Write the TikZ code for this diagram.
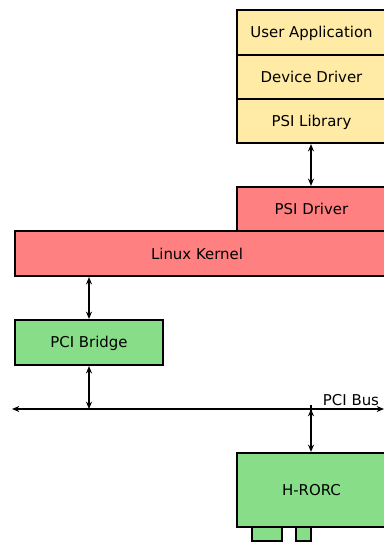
\documentclass[tikz,border=0pt]{standalone}
\usepackage{fontspec}
\setmainfont{DejaVu Sans}
\usetikzlibrary{arrows.meta}
\definecolor{appyellow}{HTML}{FFEBA6}
\definecolor{kernred}{HTML}{FF8080}
\definecolor{hwgreen}{HTML}{88DE88}
\tikzset{
  lbl/.style={font=\fontsize{11.2}{13}\selectfont, text height=8.1pt, text depth=0pt, inner sep=0pt},
  blk/.style={lbl, draw=black, line width=1.6pt, rectangle},
  ylw/.style={blk, fill=appyellow},
  rd/.style={blk, fill=kernred},
  grn/.style={blk, fill=hwgreen},
  link/.style={line width=1.5pt, {Stealth[length=5.5pt,width=4.5pt]}-{Stealth[length=5.5pt,width=4.5pt]}},
}
\begin{document}
\begin{tikzpicture}[x=0.75pt, y=-0.75pt]
\useasboundingbox (0,0) rectangle (384,543);
% user space stack
\node[ylw, minimum width=149*0.75pt, minimum height=45*0.75pt] (ua) at (311.5,32.5) {User Application};
\node[ylw, minimum width=149*0.75pt, minimum height=44*0.75pt] (dd) at (311.5,77) {Device Driver};
\node[ylw, minimum width=149*0.75pt, minimum height=44*0.75pt] (psil) at (311.5,121) {PSI Library};
% kernel space
\node[rd, minimum width=149*0.75pt, minimum height=44*0.75pt] (psid) at (311.5,209) {PSI Driver};
\node[rd, minimum width=371*0.75pt, minimum height=45*0.75pt] (lk) at (200.5,253.5) {};
\node[lbl] (lkt) at (197,254.5) {Linux Kernel};
% hardware
\node[grn, minimum width=148*0.75pt, minimum height=45*0.75pt] (pcib) at (89,342.5) {PCI Bridge};
\node[grn, minimum width=149*0.75pt, minimum height=74*0.75pt] (hr) at (311.5,490) {H-RORC};
\node[grn, minimum width=30*0.75pt, minimum height=14*0.75pt] (tabA) at (267,534) {};
\node[grn, minimum width=15*0.75pt, minimum height=14*0.75pt] (tabB) at (303.5,534) {};
% bus
\coordinate (busL) at (12,409);
\coordinate (busR) at (384,409);
\draw[link] (busL) -- (busR);
\node[lbl, anchor=base] (buslbl) at (351,405.5) {PCI Bus};
% connections
\draw[link] (psil.south -| 311,0) -- (psid.north -| 311,0);
\draw[link] (lk.south -| pcib.north) -- (pcib.north);
\draw[link] (pcib.south) -- (pcib.south |- busL);
\draw[link] (hr.north -| 311,0) |- (busL -| 311,0);
\end{tikzpicture}
\end{document}
